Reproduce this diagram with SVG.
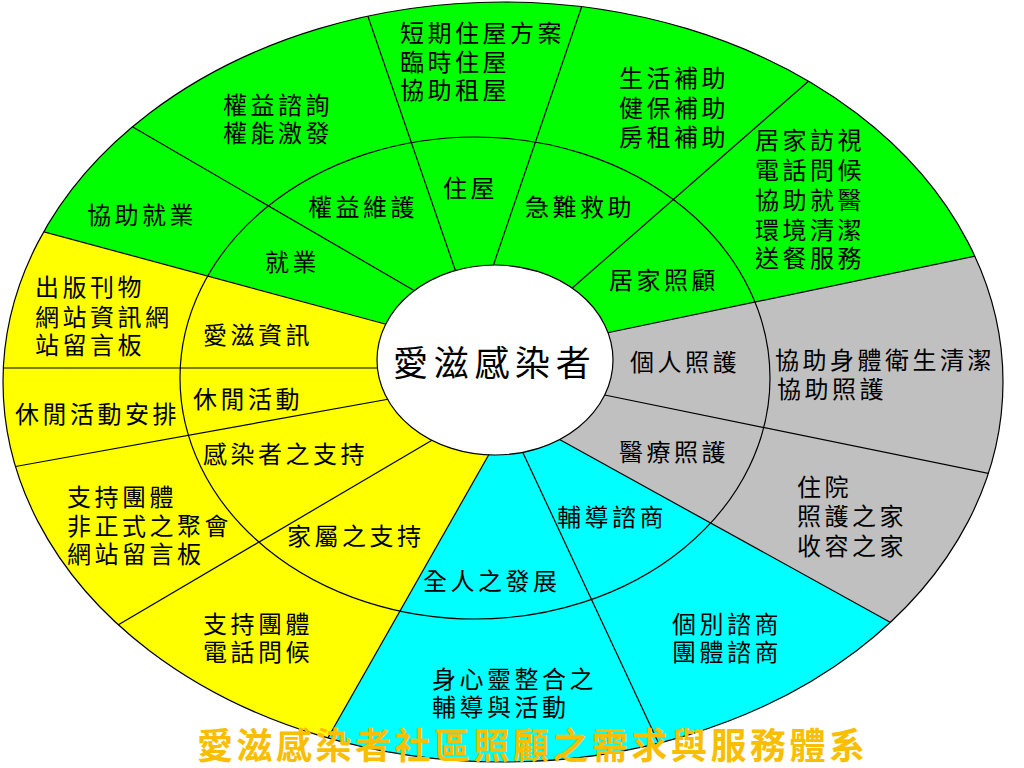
<svg xmlns="http://www.w3.org/2000/svg" width="1024" height="768" viewBox="0 0 1024 768">
<defs>
<style>
.t{font-family:"Noto Sans CJK TC","Noto Sans CJK SC",sans-serif;font-size:24px;letter-spacing:3.5px;fill:#000}
.c{font-family:"Noto Sans CJK TC","Noto Sans CJK SC",sans-serif;font-size:35px;letter-spacing:5.7px;fill:#000}
.title{font-family:"Noto Sans CJK TC","Noto Sans CJK SC",serif;font-size:36px;letter-spacing:3.5px;font-weight:bold;fill:#FABE00}
.ln{stroke:#000;stroke-width:1.2;fill:none}
</style>
<clipPath id="outerClip"><ellipse cx="503" cy="382" rx="500" ry="380"/></clipPath>
</defs>
<rect width="1024" height="768" fill="#fff"/>
<g id="wheel" clip-path="url(#outerClip)">
<polygon id="green" fill="#00FF00" points="495,360 383,323 0,220 -10,220 -10,-10 1034,-10 1034,244 1024,246 610,332"/>
<polygon id="gray" fill="#C0C0C0" points="495,360 610,332 1024,246 1034,244 1034,702 1024,696 562,441"/>
<polygon id="cyan" fill="#00FFFF" points="495,360 562,441 1024,696 1034,702 1034,778 305,778 488,456"/>
<polygon id="yellow" fill="#FFFF00" points="495,360 488,456 305,778 -10,778 -10,220 0,220 383,323"/>
<g id="dividers" class="ln">
<line x1="459" y1="281" x2="363" y2="2"/>
<line x1="489" y1="278" x2="586" y2="-6"/>
<line x1="562" y1="297" x2="819" y2="72"/>
<line x1="592" y1="336" x2="990" y2="253"/>
<line x1="590" y1="392" x2="1006" y2="477"/>
<line x1="546" y1="432" x2="906" y2="631"/>
<line x1="517" y1="440" x2="666" y2="759"/>
<line x1="496" y1="442" x2="325" y2="743"/>
<line x1="446" y1="432" x2="101" y2="635"/>
<line x1="406" y1="396" x2="-4" y2="470"/>
<line x1="390" y1="368" x2="-5" y2="368"/>
<line x1="400" y1="328" x2="26" y2="227"/>
<line x1="427" y1="298" x2="119" y2="119"/>
</g>
</g>
<ellipse id="middleRing" class="ln" cx="475" cy="378" rx="295" ry="241"/>
<ellipse id="outerRing" class="ln" cx="503" cy="382" rx="500" ry="380"/>
<g id="center">
<ellipse cx="495" cy="360" rx="118" ry="95" fill="#fff" stroke="#000" stroke-width="1.2"/>
<text class="c" x="393" y="376">愛滋感染者</text>
</g>
<g id="housing"><text class="t" x="443" y="197">住屋</text>
<text class="t" x="400" y="42">短期住屋方案<tspan x="400" dy="29">臨時住屋</tspan><tspan x="400" dy="28">協助租屋</tspan></text></g>
<g id="rights"><text class="t" x="308" y="216">權益維護</text>
<text class="t" x="223" y="114">權益諮詢<tspan x="223" dy="28">權能激發</tspan></text></g>
<g id="employment"><text class="t" x="265" y="271">就業</text>
<text class="t" x="87" y="224">協助就業</text></g>
<g id="aidsinfo"><text class="t" x="203" y="344">愛滋資訊</text>
<text class="t" x="35" y="296">出版刊物<tspan x="35" dy="30">網站資訊網</tspan><tspan x="35" dy="28">站留言板</tspan></text></g>
<g id="emergency"><text class="t" x="525" y="216">急難救助</text>
<text class="t" x="619" y="87">生活補助<tspan x="619" dy="30">健保補助</tspan><tspan x="619" dy="29">房租補助</tspan></text></g>
<g id="homecare"><text class="t" x="609" y="289">居家照顧</text>
<text class="t" x="755" y="149">居家訪視<tspan x="755" dy="30">電話問候</tspan><tspan x="755" dy="30">協助就醫</tspan><tspan x="755" dy="30">環境清潔</tspan><tspan x="755" dy="28">送餐服務</tspan></text></g>
<g id="personalcare"><text class="t" x="630" y="371">個人照護</text>
<text class="t" x="775" y="369">協助身體衛生清潔<tspan x="777" dy="29">協助照護</tspan></text></g>
<g id="medicalcare"><text class="t" x="619" y="461">醫療照護</text>
<text class="t" x="797" y="496">住院<tspan x="797" dy="29">照護之家</tspan><tspan x="797" dy="30">收容之家</tspan></text></g>
<g id="counseling"><text class="t" x="557" y="526">輔導諮商</text>
<text class="t" x="672" y="633">個別諮商<tspan x="672" dy="28">團體諮商</tspan></text></g>
<g id="wholeperson"><text class="t" x="423" y="590">全人之發展</text>
<text class="t" x="432" y="688">身心靈整合之<tspan x="432" dy="28">輔導與活動</tspan></text></g>
<g id="familysupport"><text class="t" x="287" y="545">家屬之支持</text>
<text class="t" x="203" y="633">支持團體<tspan x="203" dy="28">電話問候</tspan></text></g>
<g id="patientsupport"><text class="t" x="203" y="463">感染者之支持</text>
<text class="t" x="67" y="506">支持團體<tspan x="67" dy="29">非正式之聚會</tspan><tspan x="67" dy="28">網站留言板</tspan></text></g>
<g id="leisure"><text class="t" x="193" y="408">休閒活動</text>
<text class="t" x="15" y="423">休閒活動安排</text></g>
<text id="title" class="title" x="197" y="759">愛滋感染者社區照顧之需求與服務體系</text>
</svg>
